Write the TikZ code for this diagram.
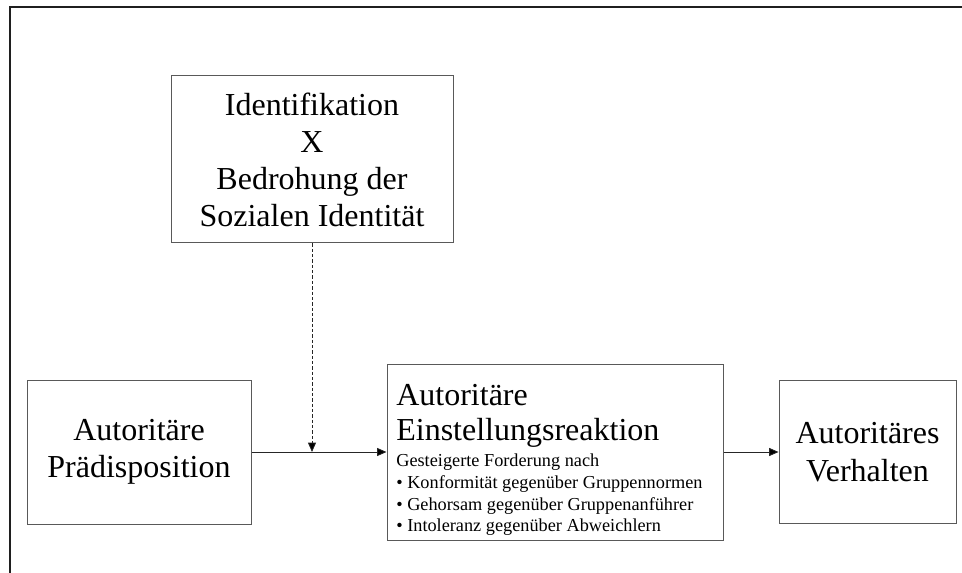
\documentclass[tikz,border=0pt]{standalone}
\usepackage{fontspec}
\setmainfont{Liberation Serif}
\usetikzlibrary{arrows.meta,positioning}

\begin{document}
\begin{tikzpicture}[x=0.75pt,y=-0.75pt,on grid,
    box/.style={draw=black!65,line width=0.75pt,align=center,inner sep=0pt,
      font=\fontsize{24}{28}\selectfont},
    pfeil/.style={-{Triangle[length=7pt,width=6pt]},line width=0.6pt,draw=black!85}]
  \useasboundingbox (0,0) rectangle (962,573);
  \draw[line width=1.5pt,black!88] (10,573) -- (10,7) -- (962,7);
  \node[box,minimum width=168pt,minimum height=108pt] (pred) at (139,452) {Autoritäre\\Prädisposition};
  \node[box,align=flush left,text width=238pt,inner xsep=7pt,minimum height=132pt] (reakt) [right=312pt of pred]
    {\parindent=0pt
     {\fontsize{24}{26}\selectfont\rule{0pt}{28pt}Autoritäre\par Einstellungsreaktion\par}
     \vspace{3.2pt}
     {\fontsize{13.7}{16.4}\selectfont Gesteigerte Forderung nach\par
     • Konformität gegenüber Gruppennormen\par
     • Gehorsam gegenüber Gruppenanführer\par
     • Intoleranz gegenüber Abweichlern\par}};
  \node[box,minimum width=132.75pt,minimum height=107.25pt] (verh) [right=234.4pt of reakt] {Autoritäres\\Verhalten};
  \node[box,font=\fontsize{24}{27.75}\selectfont,minimum width=211.5pt,minimum height=125.25pt] (ident) at (312,159.5)
    {Identifikation\\X\\Bedrohung der\\Sozialen Identität};
  \coordinate (kreuz) at (ident.south |- pred.east);
  \path[pfeil]
    (pred) edge (reakt)
    (reakt) edge (verh)
    (ident) edge[dashed,dash pattern=on 2.5pt off 1.5pt] (kreuz);
\end{tikzpicture}
\end{document}
